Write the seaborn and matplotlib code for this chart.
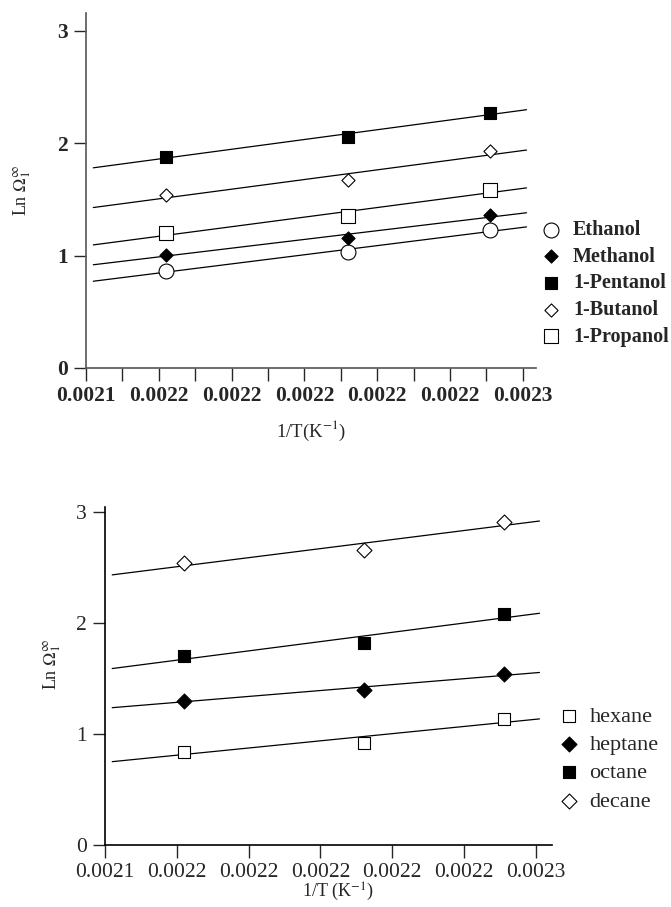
import numpy as np
import pandas as pd
import seaborn as sns
import matplotlib.pyplot as plt
from matplotlib.ticker import FixedLocator, FuncFormatter

# 1/T values (K^-1), same three temperatures for every solute
inv_T = [0.002162, 0.002212, 0.002251]

# top panel: alcohols
alcohols = ["Ethanol", "Methanol", "1-Pentanol", "1-Butanol", "1-Propanol"]
ethanol = [0.865, 1.03, 1.23]
methanol = [1.01, 1.16, 1.36]
pentanol = [1.88, 2.06, 2.27]
butanol = [1.54, 1.67, 1.93]
propanol = [1.20, 1.35, 1.585]

# bottom panel: alkanes
alkanes = ["hexane", "heptane", "octane", "decane"]
hexane = [0.84, 0.92, 1.135]
heptane = [1.30, 1.40, 1.54]
octane = [1.70, 1.82, 2.08]
decane = [2.54, 2.66, 2.91]

x_ticks = [0.00214, 0.00216, 0.00218, 0.00220, 0.00222, 0.00224, 0.00226]
y_ticks = [0, 1, 2, 3]

sns.set_style("ticks")
plt.rcParams["font.family"] = ["Liberation Serif", "DejaVu Serif"]
plt.rcParams["mathtext.fontset"] = "stix"

fig = plt.figure(figsize=(6.71, 9.07), dpi=100)
ax1 = fig.add_axes([0.1282, 0.5943, 0.6706, 0.3914])
ax2 = fig.add_axes([0.1565, 0.0684, 0.6662, 0.3727])

line_x = np.array([0.002142, 0.002261])

# (values, marker, size, filled)
top_styles = [
    (ethanol, "o", 115, False),
    (methanol, "D", 45, True),
    (pentanol, "s", 80, True),
    (butanol, "D", 45, False),
    (propanol, "s", 90, False),
]
bottom_styles = [
    (hexane, "s", 65, False),
    (heptane, "D", 58, True),
    (octane, "s", 72, True),
    (decane, "D", 58, False),
]


def draw_panel(ax, names, styles):
    for name, (vals, mk, size, filled) in zip(names, styles):
        df = pd.DataFrame({"x": inv_T, "y": vals})
        slope, icpt = np.polyfit(df["x"], df["y"], 1)
        fit = pd.DataFrame({"x": line_x, "y": slope * line_x + icpt})
        sns.lineplot(data=fit, x="x", y="y", ax=ax, color="black",
                     linewidth=0.9, zorder=2)
        sns.scatterplot(data=df, x="x", y="y", ax=ax, marker=mk, s=size,
                        color="black" if filled else "white",
                        edgecolor="black", linewidth=0.8, label=name,
                        zorder=3)


draw_panel(ax1, alcohols, top_styles)
draw_panel(ax2, alkanes, bottom_styles)

fmt = FuncFormatter(lambda v, p: f"{v:.4f}")
for ax, xmax, ymax in [(ax1, 0.0022636, 3.16), (ax2, 0.0022645, 3.045)]:
    ax.set_xlim(0.00214, xmax)
    ax.set_ylim(0, ymax)
    ax.xaxis.set_major_locator(FixedLocator(x_ticks))
    ax.xaxis.set_major_formatter(fmt)
    ax.set_yticks(y_ticks)
    sns.despine(ax=ax)
    ax.tick_params(axis="both", direction="out", length=9, width=1,
                   labelsize=15.5, pad=4)
    ax.set_ylabel(r"Ln $\Omega_1^{\infty}$", fontsize=13)

# top panel: minor ticks between labels, bold labels, grey spines
ax1.xaxis.set_minor_locator(FixedLocator([0.00215, 0.00217, 0.00219,
                                          0.00221, 0.00223, 0.00225]))
ax1.tick_params(axis="x", which="minor", direction="out", length=9, width=1)
for lbl in ax1.get_xticklabels() + ax1.get_yticklabels():
    lbl.set_fontweight("bold")
for sp in ["left", "bottom"]:
    ax1.spines[sp].set_color("#555555")
    ax1.spines[sp].set_linewidth(1.2)
    ax2.spines[sp].set_color("black")
    ax2.spines[sp].set_linewidth(1.2)

ax1.set_xlabel(r"1/T(K$^{-1}$)", fontsize=13.5)
ax2.set_xlabel(r"1/T (K$^{-1}$)", fontsize=13)

ax1.yaxis.set_label_coords(-0.118, 0.5)
ax1.xaxis.set_label_coords(0.5, -0.144)
ax2.yaxis.set_label_coords(-0.094, 0.535)
ax2.xaxis.set_label_coords(0.52, -0.106)

ax1.legend(loc="upper left", bbox_to_anchor=(0.806, 0.7574),
           bbox_transform=fig.transFigure, frameon=False, borderpad=0,
           borderaxespad=0, handlelength=1, handletextpad=0.6,
           labelspacing=0.33, prop={"family": "Liberation Serif",
                                    "weight": "bold", "size": 14.5})
ax2.legend(loc="upper left", bbox_to_anchor=(0.832, 0.2216),
           bbox_transform=fig.transFigure, frameon=False, borderpad=0,
           borderaxespad=0, handlelength=1, handletextpad=0.4,
           labelspacing=0.35, prop={"family": "Liberation Serif", "size": 16})

fig.savefig("out.png", dpi=100)
